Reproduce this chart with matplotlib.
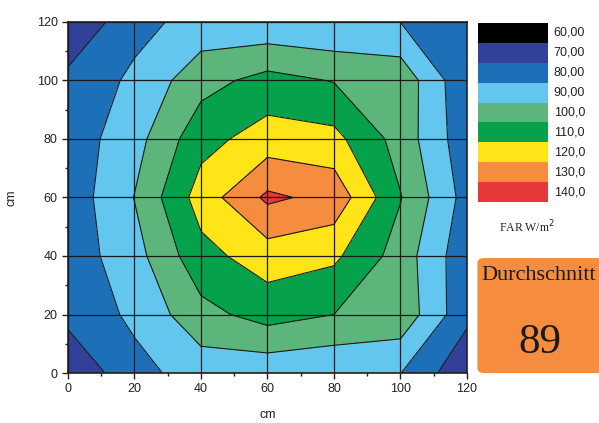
import numpy as np
import matplotlib
matplotlib.use("Agg")
from matplotlib import pyplot as plt
from matplotlib.patches import FancyBboxPatch

# measuring grid (cm)
xs = [0, 20, 40, 60, 80, 100, 120]
ys = [0, 20, 40, 60, 80, 100, 120]

# FAR values, one row per y position (bottom to top)
row_y0 = [71.4, 86.9, 94.3, 92.7, 91.0, 90.2, 72.0]
row_y20 = [83.0, 92.0, 106.8, 114.0, 110.0, 107.0, 82.5]
row_y40 = [84.2, 96.2, 116.7, 125.0, 122.0, 105.6, 82.8]
row_y60 = [83.7, 100.3, 124.5, 142.0, 136.8, 110.5, 86.0]
row_y80 = [84.2, 96.2, 116.6, 124.5, 123.0, 106.0, 83.4]
row_y100 = [82.7, 92.0, 106.3, 113.5, 109.5, 106.8, 81.7]
row_y120 = [71.0, 86.8, 93.7, 92.0, 90.5, 89.9, 80.5]

levels = [60, 70, 80, 90, 100, 110, 120, 130, 140, 150]
level_labels = ["60,00", "70,00", "80,00", "90,00", "100,0", "110,0", "120,0", "130,0", "140,0"]
colors = ["#000000", "#33409a", "#1d6fb8", "#62c6ee", "#5cb67c",
          "#06a14b", "#ffe418", "#f58c3e", "#e6383a"]
mean_value = "89"

Z = np.array([row_y0, row_y20, row_y40, row_y60, row_y80, row_y100, row_y120])
X, Y = np.meshgrid(xs, ys)

fig = plt.figure(figsize=(5.99, 4.23), dpi=100)
plt.rcParams['font.family'] = ['Liberation Sans', 'DejaVu Sans']

ax = fig.add_axes([0.1135, 0.1182, 0.6661, 0.8298])
ax.contourf(X, Y, Z, levels=levels, colors=colors)
ax.contour(X, Y, Z, levels=levels, colors="#1a1a1a", linewidths=0.8)

ax.set_xlim(0, 120)
ax.set_ylim(0, 120)
ax.set_xticks(xs)
ax.set_yticks(ys)
ax.set_xticks(range(10, 120, 20), minor=True)
ax.set_yticks(range(10, 120, 20), minor=True)
ax.tick_params(which="major", direction="out", length=4, width=1, labelsize=9, colors="#222222")
ax.tick_params(which="minor", direction="out", length=2.5, width=1, colors="#222222")
ax.set_axisbelow(False)
ax.grid(True, which="major", color="#1a1a1a", linewidth=0.9)
for s in ax.spines.values():
    s.set_linewidth(1.2)
    s.set_color("#222222")
ax.set_xlabel("cm", fontsize=9, color="#222222", labelpad=10)
ax.set_ylabel("cm", fontsize=9, color="#222222", labelpad=14)

# colour legend
lax = fig.add_axes([0.798, 0.5225, 0.1169, 0.4232])
n = len(colors)
lax.bar([0] * n, [1] * n, bottom=np.arange(n)[::-1], color=colors, width=1, align="edge")
lax.set_xlim(0, 1)
lax.set_ylim(0, n)
lax.axis("off")
for i, lab in enumerate(level_labels):
    lax.text(1.08, n - i - 0.5, lab, va="center", ha="left", fontsize=9, color="#222222")

fig.text(0.8798, 0.4634, "FAR W/m$^2$", ha="center", va="center",
         family="Liberation Serif", fontsize=8.5, color="#222222")

# average box
box = FancyBboxPatch((0.803, 0.124), 0.3, 0.26, boxstyle="round,pad=0.006,rounding_size=0.012",
                     transform=fig.transFigure, facecolor="#f58c3e", edgecolor="none")
fig.patches.append(box)
fig.text(0.804, 0.348, "Durchschnitt", ha="left", va="center",
         family="Liberation Serif", fontsize=16, color="#1a1a1a")
fig.text(0.9015, 0.19, mean_value, ha="center", va="center",
         family="Liberation Serif", fontsize=31, color="#1a1a1a")

plt.savefig("out.png", dpi=100)
plt.close()
